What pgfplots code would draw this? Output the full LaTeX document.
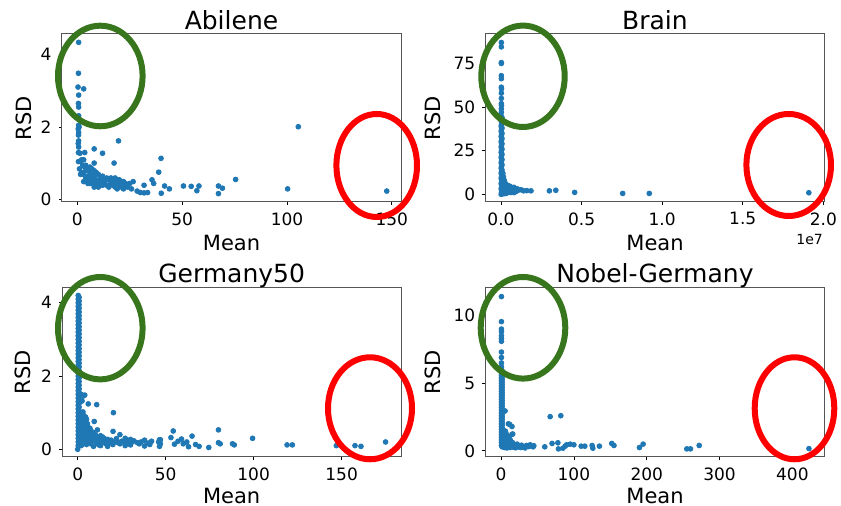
\documentclass[border=0pt]{standalone}
\usepackage{fontspec}
\setmainfont{DejaVu Sans}
\usepackage{pgfplots}
\pgfplotsset{compat=1.18}
\usepackage{xcolor}
\definecolor{cDot}{HTML}{1F77B4}
\definecolor{cGreen}{HTML}{38761D}
\definecolor{cRed}{HTML}{FF0000}
\definecolor{cFrame}{HTML}{555555}

\pgfplotsset{
  panel/.style={
    scale only axis,
    anchor = south west,
    axis line style = {draw=cFrame, line width=0.5pt},
    tick align = outside,
    tick pos   = left,
    major tick length = 1.7pt,
    every tick/.style = {black, line width=0.4pt},
    /pgf/number format/assume math mode = true,
    scaled ticks = false,
    tick label style = {font=\fontsize{8.5}{10}\selectfont},
    xlabel = {Mean},
    ylabel = {RSD},
    label style = {font=\fontsize{10.5}{12}\selectfont},
    title style = {font=\fontsize{12.5}{14}\selectfont,
                   at={(axis description cs:0.5,1)}, anchor=base, yshift=-3.6pt},
    xlabel style = {anchor=base},
  },
  dots/.style={only marks, mark=*, mark size=1.2pt, color=cDot,
               mark options={draw=cDot, fill=cDot}},
}

\begin{document}
\begin{tikzpicture}
\useasboundingbox (0,0) rectangle (420.5pt,253pt);

% ---------------- Abilene ----------------
\begin{axis}[
  panel, at={(31pt,152pt)}, width=169.5pt, height=84pt,
  title = {Abilene},
  xmin=-7.35, xmax=154.4, ymin=-0.06, ymax=4.56,
  xtick={0,50,100,150}, ytick={0,2,4},
  xlabel style={at={(axis description cs:0.5,-0.29)}},
  ylabel style={at={(axis description cs:-0.0885,0.5)}, anchor=base},
]
\addplot[dots] table {
x y
0.6 4.33
0.5 3.48
0.3 3.10
3.0 3.05
0.6 2.88
0.5 2.65
0.6 2.55
0.6 2.31
0.6 2.05
0.8 2.00
0.4 1.95
0.6 1.85
0.5 1.78
0.6 1.62
0.4 1.55
0.6 1.45
0.5 1.30
1.2 1.28
0.5 1.05
8.0 1.40
19.6 1.62
12.0 1.28
3.5 1.30
17.5 1.01
8.0 1.01
39.9 1.14
38.8 0.76
35.6 0.55
36.4 0.45
105.4 2.01
75.5 0.56
67.3 0.38
69.2 0.32
67.3 0.17
100.3 0.30
147.6 0.24
50.6 0.38
54.3 0.37
58.0 0.38
57.0 0.25
43.9 0.30
41.6 0.38
40.0 0.18
31.8 0.40
33.5 0.20
31.8 0.19
28.5 0.24
30.0 0.20
25.8 0.30
26.6 0.50
1.5 1.05
2.0 1.10
3.0 1.10
2.5 0.95
3.5 0.90
4.0 0.95
5.0 0.85
6.0 0.90
7.0 0.85
8.0 0.80
2.0 0.75
3.0 0.70
4.0 0.80
5.0 0.65
6.0 0.60
7.0 0.70
8.0 0.65
9.0 0.75
10.0 0.70
11.0 0.60
12.0 0.55
13.0 0.50
14.0 0.60
15.0 0.55
16.0 0.60
17.0 0.50
18.0 0.60
19.0 0.55
20.0 0.50
21.0 0.45
22.0 0.50
23.0 0.45
24.0 0.40
25.0 0.45
3.0 0.50
4.0 0.55
5.0 0.50
6.0 0.45
7.0 0.55
8.0 0.50
9.0 0.40
10.0 0.35
11.0 0.45
12.0 0.40
13.0 0.45
14.0 0.40
15.0 0.35
16.0 0.45
17.0 0.40
18.0 0.35
19.0 0.30
20.0 0.40
21.0 0.35
22.0 0.30
8.0 0.35
5.0 0.45
4.0 0.60
6.0 0.75
10.0 0.50
12.0 0.65
7.0 0.45
9.0 0.55
11.0 0.50
13.0 0.55
16.0 0.50
18.0 0.45
20.0 0.55
22.0 0.40
24.0 0.35
1.0 0.85
1.5 0.70
};
\end{axis}

% ---------------- Brain ----------------
\begin{axis}[
  panel, at={(242.85pt,152pt)}, width=169.3pt, height=84pt,
  title = {Brain},
  clip = false,
  xmin=-0.095, xmax=2.006, ymin=-4.4, ymax=91.9,
  xtick={0,0.5,1,1.5,2}, xticklabels={0.0,0.5,1.0,1.5,2.0},
  ytick={0,25,50,75},
  xlabel style={at={(axis description cs:0.5,-0.29)}},
  ylabel style={at={(axis description cs:-0.1329,0.5)}, anchor=base},
]
\addplot[dots] table {
x y
0.002 87.0
0.002 84.5
0.002 75.5
0.002 75.0
0.002 68.0
0.002 66.3
0.002 61.4
0.003 60.5
0.002 58.0
0.002 55.0
0.002 52.0
0.003 51.0
0.002 49.0
0.002 47.0
0.001 45 
0.006 44 
0.003 43 
0.001 42 
0.006 41 
0.003 40 
0.001 39 
0.006 38 
0.003 37 
0.001 36 
0.006 35 
0.003 34 
0.001 33 
0.006 32 
0.003 31 
0.001 30 
0.006 29 
0.003 28 
0.001 27 
0.006 26 
0.003 25 
0.001 24 
0.006 23 
0.003 22 
0.001 21 
0.006 20 
0.003 19 
0.001 18 
0.006 17 
0.003 16 
0.001 15 
0.006 14 
0.003 13 
0.001 12 
0.006 11 
0.003 10 
0.001 9  
0.006 8  
0.003 7  
0.001 6  
0.006 5  
0.003 4  
0.001 3  
0.006 2  
0.003 1  
0.001 0  
0.012 12.0
0.015 10.0
0.020 8.0
0.010 8.5
0.030 6.0
0.020 6.5
0.045 5.0
0.055 4.6
0.025 5.2
0.065 4.0
0.050 4.2
0.035 3.8
0.080 4.0
0.090 3.0
0.100 3.2
0.060 3.0
0.040 3.1
0.110 2.5
0.125 2.6
0.070 2.5
0.050 2.6
0.030 2.4
0.140 2.0
0.160 2.1
0.100 2.0
0.080 1.9
0.060 2.1
0.040 2.0
0.020 1.8
0.090 1.5
0.070 1.4
0.050 1.5
0.030 1.6
0.015 1.4
0.060 1.0
0.040 0.9
0.020 1.1
0.010 0.8
0.080 1.0
0.030 0.5
0.020 0.4
0.010 0.3
0.186 2.0
0.300 2.0
0.340 2.3
0.457 1.1
0.755 0.5
0.920 0.5
1.910 0.9
};
\node[anchor=base east, font=\fontsize{7}{8}\selectfont, inner sep=0pt]
  at (axis description cs:0.997,-0.252) {1e7};
\end{axis}

% ---------------- Germany50 ----------------
\begin{axis}[
  panel, at={(31.15pt,24.5pt)}, width=169.35pt, height=84.6pt,
  title = {Germany50},
  xmin=-8.75, xmax=183.75, ymin=-0.21, ymax=4.41,
  xtick={0,50,100,150}, ytick={0,2,4},
  xlabel style={at={(axis description cs:0.5,-0.272)}},
  ylabel style={at={(axis description cs:-0.0933,0.5)}, anchor=base},
]
\addplot[dots] table {
x y
0.3 4.20
0.8 4.15
0.3 4.10
0.8 4.05
0.3 4.00
0.8 3.95
0.3 3.90
0.8 3.85
0.3 3.80
0.8 3.75
0.3 3.70
0.8 3.65
0.3 3.60
0.8 3.55
0.3 3.50
0.8 3.45
0.3 3.40
0.8 3.35
0.3 3.30
0.8 3.25
0.3 3.20
0.8 3.15
0.3 3.10
0.8 3.05
0.3 3.00
0.8 2.95
0.3 2.90
0.8 2.85
0.3 2.80
0.8 2.75
0.3 2.70
0.8 2.65
0.3 2.60
0.8 2.55
0.3 2.50
0.8 2.45
0.3 2.40
0.8 2.35
0.3 2.30
0.8 2.25
0.3 2.20
0.8 2.15
0.3 2.10
0.8 2.05
0.3 2.00
0.8 1.95
0.3 1.90
0.8 1.85
0.3 1.80
0.8 1.75
0.3 1.70
0.8 1.65
0.3 1.60
0.8 1.55
0.3 1.50
0.8 1.45
0.3 1.40
0.8 1.35
0.3 1.30
0.8 1.25
0.3 1.20
0.8 1.15
0.3 1.10
0.8 1.05
0.3 1.00
0.8 0.95
0.3 0.90
0.8 0.85
0.3 0.80
0.8 0.75
0.3 0.70
0.8 0.65
0.3 0.60
0.8 0.55
0.3 0.50
0.8 0.45
0.3 0.40
0.8 0.35
0.3 0.30
0.8 0.25
0.3 0.20
0.8 0.15
0.3 0.10
0.0 0.00
2.0 1.50
3.0 1.45
4.0 1.48
1.5 1.30
2.5 1.32
6.0 1.24
10.8 1.22
2.0 1.00
3.0 1.02
20.3 1.00
1.5 0.90
3.5 0.92
4.5 0.88
2.0 0.80
3.0 0.78
5.0 0.82
9.4 0.76
1.5 0.70
2.5 0.72
4.0 0.68
5.5 0.70
2.0 0.60
3.0 0.62
4.5 0.58
6.0 0.60
7.0 0.57
1.5 0.50
3.0 0.52
5.0 0.48
7.0 0.50
8.5 0.47
11.2 0.53
20.1 0.49
2.5 0.45
4.0 0.43
6.0 0.45
9.0 0.42
2.0 0.40
3.5 0.38
5.5 0.40
8.0 0.38
10.0 0.40
13.0 0.37
24.0 0.40
1.5 0.35
4.5 0.33
7.0 0.35
11.0 0.32
14.0 0.34
2.0 0.30
3.0 0.28
5.0 0.30
6.5 0.27
9.0 0.30
12.0 0.28
15.0 0.30
17.0 0.27
22.0 0.29
27.0 0.30
30.0 0.27
1.5 0.25
4.0 0.23
8.0 0.25
10.0 0.22
13.0 0.25
16.0 0.23
19.0 0.25
25.0 0.22
28.0 0.25
32.0 0.23
38.0 0.25
42.0 0.22
47.0 0.26
2.5 0.20
3.5 0.18
6.0 0.20
11.0 0.18
14.0 0.20
18.0 0.17
21.0 0.20
23.0 0.18
26.0 0.20
29.0 0.17
31.0 0.20
34.0 0.18
36.0 0.20
40.0 0.17
46.0 0.20
1.0 0.15
5.0 0.13
7.5 0.15
12.0 0.12
16.0 0.15
20.0 0.13
24.0 0.15
30.0 0.12
35.0 0.15
41.0 0.13
47.0 0.15
55.0 0.14
60.0 0.15
2.0 0.10
9.0 0.08
13.0 0.10
17.0 0.08
27.0 0.10
38.0 0.09
54.3 0.50
80.0 0.53
99.4 0.30
65.0 0.36
53.0 0.32
46.5 0.26
57.0 0.22
59.0 0.28
62.0 0.20
67.0 0.13
69.0 0.08
74.5 0.05
80.0 0.18
81.0 0.15
88.0 0.15
89.0 0.12
119.0 0.12
122.0 0.12
147.0 0.10
157.6 0.10
161.0 0.08
175.0 0.20
46.5 0.08
63.0 0.07
};
\end{axis}

% ---------------- Nobel-Germany ----------------
\begin{axis}[
  panel, at={(242.85pt,24.5pt)}, width=169.3pt, height=84.6pt,
  title = {Nobel-Germany},
  xmin=-21.1, xmax=443.8, ymin=-0.45, ymax=12.05,
  xtick={0,100,200,300,400}, ytick={0,5,10},
  xlabel style={at={(axis description cs:0.5,-0.272)}},
  ylabel style={at={(axis description cs:-0.1329,0.5)}, anchor=base},
]
\addplot[dots] table {
x y
0.5 11.4
0.5 9.55
0.5 9.0
0.5 8.8
0.5 8.5
0.5 8.3
0.5 8.1
0.5 7.3
0.5 6.9
0.5 6.5
0.5 6.2
0.5 6.0
1.5 5.9
0.5 5.8
1.5 5.7
0.5 5.6
1.5 5.5
0.5 5.4
1.5 5.3
0.5 5.2
1.5 5.1
0.5 5.0
1.5 4.9
0.5 4.8
1.5 4.7
0.5 4.6
1.5 4.5
0.5 4.4
1.5 4.3
0.5 4.2
1.5 4.1
0.5 4.0
1.5 3.9
0.5 3.8
1.5 3.7
0.5 3.6
1.5 3.5
0.5 3.4
1.5 3.3
0.5 3.2
1.5 3.1
0.5 3.0
1.5 2.9
0.5 2.8
1.5 2.7
0.5 2.6
1.5 2.5
0.5 2.4
1.5 2.3
0.5 2.2
1.5 2.1
0.5 2.0
1.5 1.9
0.5 1.8
1.5 1.7
0.5 1.6
1.5 1.5
0.5 1.4
1.5 1.3
0.5 1.2
1.5 1.1
0.5 1.0
1.5 0.9
0.5 0.8
1.5 0.7
0.5 0.6
1.5 0.5
0.5 0.4
1.5 0.3
5.5 2.95
10.0 2.0
12.0 1.95
15.0 1.80
16.0 1.25
15.0 1.22
4.0 1.50
6.0 1.45
3.0 1.20
5.0 1.18
8.0 1.20
2.5 1.00
4.0 1.02
6.0 0.98
9.0 1.00
11.0 0.97
3.0 0.80
5.0 0.82
7.0 0.78
10.0 0.80
13.0 0.77
2.0 0.60
4.0 0.62
6.0 0.58
8.0 0.60
12.0 0.57
16.0 0.60
3.0 0.50
5.0 0.52
9.0 0.48
14.0 0.50
18.0 0.47
22.0 0.50
2.0 0.40
4.0 0.42
7.0 0.38
11.0 0.40
15.0 0.37
20.0 0.40
25.0 0.38
28.0 0.42
35.0 0.40
40.0 0.45
45.0 0.38
3.0 0.30
6.0 0.32
10.0 0.28
13.0 0.30
17.0 0.27
24.0 0.30
30.0 0.28
38.0 0.32
44.0 0.30
5.0 0.25
8.0 0.22
12.0 0.25
20.0 0.23
27.0 0.25
33.0 0.22
60.0 0.30
67.4 2.53
82.0 2.60
70.0 0.55
78.0 0.60
85.0 0.20
78.8 0.15
88.0 0.35
90.0 0.45
95.0 0.50
100.0 0.45
110.0 0.35
115.0 0.35
125.0 0.40
126.0 0.20
135.0 0.35
152.0 0.55
155.0 0.40
190.0 0.25
195.0 0.50
255.0 0.15
260.0 0.15
272.0 0.40
422.7 0.17
};
\end{axis}

% ---------------- highlight ellipses (image pixel frame) ----------------
\begin{scope}[x=0.5pt, y=-0.5pt, shift={(0,253pt)}, line width=3pt]
  \draw[cGreen] (100.3,76.0)  ellipse [x radius=42.3, y radius=50.3];
  \draw[cRed]   (376.7,165.5) ellipse [x radius=40.3, y radius=51.5];
  \draw[cGreen] (523.0,76.3)  ellipse [x radius=41.7, y radius=50.7];
  \draw[cRed]   (788.7,165.0) ellipse [x radius=42.3, y radius=51.0];
  \draw[cGreen] (100.3,328.2) ellipse [x radius=42.3, y radius=51.2];
  \draw[cRed]   (370.0,408.3) ellipse [x radius=42.0, y radius=51.0];
  \draw[cGreen] (523.0,327.8) ellipse [x radius=42.3, y radius=50.8];
  \draw[cRed]   (794.5,408.3) ellipse [x radius=39.8, y radius=51.0];
\end{scope}
\end{tikzpicture}
\end{document}
